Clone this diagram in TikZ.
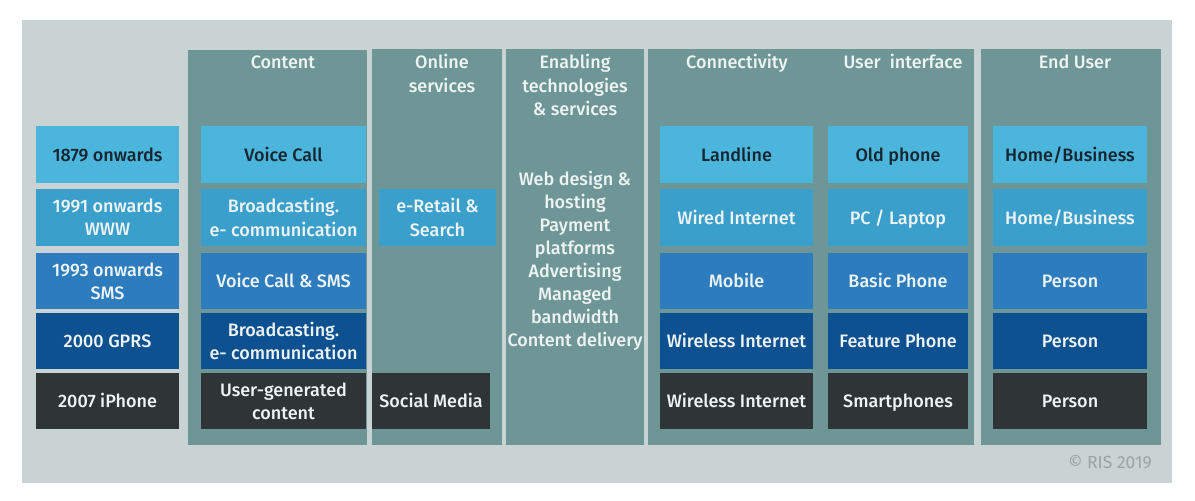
\documentclass[tikz,border=0pt]{standalone}
\usepackage{fontspec}
\setmainfont{Fira Sans}[UprightFont=* Medium]
\newfontfamily\creditfont{Fira Sans}
\definecolor{panel}{HTML}{CAD3D3}
\definecolor{teal}{HTML}{6F9696}
\definecolor{rowA}{HTML}{4BB5DB}
\definecolor{rowB}{HTML}{3B9FCB}
\definecolor{rowC}{HTML}{2C7CBE}
\definecolor{rowD}{HTML}{0E5190}
\definecolor{rowE}{HTML}{2F3436}
\definecolor{darktext}{HTML}{172530}
\definecolor{lighttext}{HTML}{EEF3F3}
\definecolor{credit}{HTML}{9BA4A4}
% strut balanced around the cap height, so one-line labels sit centred
\newcommand{\capstrut}{\rule[-4pt]{0pt}{21.2pt}}
\tikzset{
  txt/.style={inner sep=0pt, align=center, text=lighttext,
    font=\fontsize{18}{23.4}\selectfont,
    execute at begin node=\capstrut, execute at end node=\capstrut},
  % a block of several lines, lowered a little
  ml/.style={yshift=-2pt},
  twoline/.style={label={[txt, yshift=-2pt]center:{#1}}},
  cell/.style={txt, rectangle},
  rA/.style={cell, fill=rowA, text=darktext, minimum height=57pt},
  rB/.style={cell, fill=rowB, minimum height=57pt},
  rC/.style={cell, fill=rowC, minimum height=56pt},
  rD/.style={cell, fill=rowD, minimum height=56pt},
  rE/.style={cell, fill=rowE, minimum height=56pt},
  colbg/.style={rectangle, inner sep=0pt, fill=teal},
  head/.style={txt},
  % column widths
  yr/.style={minimum width=143pt},
  ct/.style={minimum width=165pt},
  cn/.style={minimum width=153pt},
  ui/.style={minimum width=140pt},
  eu/.style={minimum width=154pt},
}
\begin{document}
\begin{tikzpicture}[x=1pt, y=-1pt]
\useasboundingbox (0,0) rectangle (1195,501);
\fill[white] (0,0) rectangle (1195,501);
% outer panel
\node[rectangle, inner sep=0pt, fill=panel, minimum width=1150pt, minimum height=463pt] (panel) at (597,251.5) {};

% column backgrounds
\node[colbg, minimum width=179pt, minimum height=395pt] (colContent) at (277.5,247.5) {};
\node[colbg, minimum width=130pt, minimum height=396pt] (colOnline) at (437,247) {};
\node[colbg, minimum width=138pt, minimum height=396pt] (colEnabling) at (575,247) {};
\node[colbg, minimum width=326pt, minimum height=396pt] (colConnect) at (811,247) {};
\node[colbg, minimum width=180pt, minimum height=396pt] (colEndUser) at (1071,247) {};

% headers
\node[head] (hContent) at (283,62) {Content};
\node[head, ml] (hOnline) at (442,73.5) {Online\\services};
\node[head, ml] (hEnabling) at (575,85) {Enabling\\technologies\\\&{} services};
\node[head] (hConnect) at (737,62) {Connectivity};
\node[head] (hUI) at (903,62) {User\ \ interface};
\node[head] (hEndUser) at (1075,62) {End User};

% enabling technologies list
\node[head, ml, font=\fontsize{18}{23}\selectfont] (enablingList) at (575,258.5) {Web design \&\\hosting\\Payment\\platforms\\Advertising\\Managed\\bandwidth\\Content delivery};

% timeline column
\node[rA, yr] (y1879) at (107.5,154.5) {1879 onwards};
\node[rB, yr, twoline={1991 onwards\\WWW}] (y1991) at (107.5,217.5) {};
\node[rC, yr, twoline={1993 onwards\\SMS}] (y1993) at (107.5,281) {};
\node[rD, yr] (y2000) at (107.5,341) {2000 GPRS};
\node[rE, yr] (y2007) at (107.5,401) {2007 iPhone};

% content
\node[rA, ct] (c1) at (283.5,154.5) {Voice Call};
\node[rB, ct, twoline={Broadcasting.\\e- communication}] (c2) at (283.5,217.5) {};
\node[rC, ct] (c3) at (283.5,281) {Voice Call \& SMS};
\node[rD, ct, twoline={Broadcasting.\\e- communication}] (c4) at (283.5,341) {};
\node[rE, ct, twoline={User-generated\\content}] (c5) at (283.5,401) {};

% online services
\node[rB, minimum width=117pt, twoline={e-Retail \&\\Search}] (o2) at (437.5,217.5) {};
\node[rE, minimum width=118pt] (o5) at (431,401) {Social Media};

% connectivity
\node[rA, cn] (n1) at (736.5,154.5) {Landline};
\node[rB, cn] (n2) at (736.5,217.5) {Wired Internet};
\node[rC, cn] (n3) at (736.5,281) {Mobile};
\node[rD, cn] (n4) at (736.5,341) {Wireless Internet};
\node[rE, cn] (n5) at (736.5,401) {Wireless Internet};

% user interface
\node[rA, ui] (u1) at (898,154.5) {Old phone};
\node[rB, ui] (u2) at (898,217.5) {PC / Laptop};
\node[rC, ui] (u3) at (898,281) {Basic Phone};
\node[rD, ui] (u4) at (898,341) {Feature Phone};
\node[rE, ui] (u5) at (898,401) {Smartphones};

% end user
\node[rA, eu] (e1) at (1070,154.5) {Home/Business};
\node[rB, eu] (e2) at (1070,217.5) {Home/Business};
\node[rC, eu] (e3) at (1070,281) {Person};
\node[rD, eu] (e4) at (1070,341) {Person};
\node[rE, eu] (e5) at (1070,401) {Person};

% credit line
\node[inner sep=0pt, anchor=east, text=credit, font=\creditfont\fontsize{17.5}{20}\selectfont] (credit) at (1152,462) {© RIS 2019};
\end{tikzpicture}
\end{document}
